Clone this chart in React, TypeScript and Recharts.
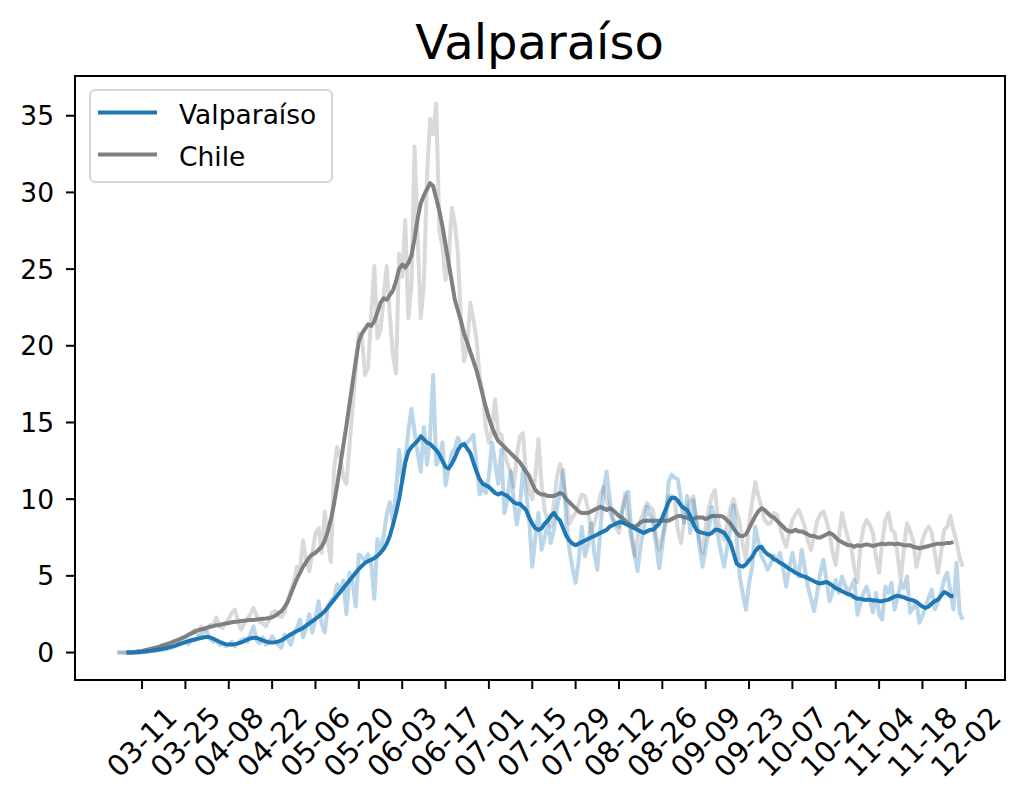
import React from "react";
import { Legend, Line, LineChart, ReferenceArea, XAxis, YAxis } from "recharts";

// days counted from 03-03 (index 0) to 12-01 (index 273)
const tickDays = [8, 22, 36, 50, 64, 78, 92, 106, 120, 134, 148, 162, 176, 190, 204, 218, 232, 246, 260, 274];
const tickLabels = [
  "03-11", "03-25", "04-08", "04-22", "05-06", "05-20", "06-03", "06-17", "07-01", "07-15",
  "07-29", "08-12", "08-26", "09-09", "09-23", "10-07", "10-21", "11-04", "11-18", "12-02",
];
const yTicks = [0, 5, 10, 15, 20, 25, 30, 35];

const chileDaily = [
  0, 0, 0, 0, 0, 0, 0, 0, 0.05, 0.1, 0.15,
  0.2, 0.25, 0.3, 0.35, 0.45, 0.5, 0.6, 0.7, 0.75, 0.85,
  1.0, 0.9, 1.2, 1.3, 1.5, 1.2, 1.7, 1.6, 1.5, 1.8,
  1.8, 2.3, 1.7, 1.6, 1.9, 2.2, 2.6, 2.8, 2.0, 1.5,
  1.9, 2.2, 2.5, 2.9, 2.4, 2.0, 1.9, 1.7, 2.1, 2.6,
  2.7, 2.4, 2.3, 2.6, 3.4, 4.0, 4.6, 5.6, 5.4, 7.3,
  6.0, 5.3, 6.5, 7.8, 8.1, 6.5, 9.2, 7.2, 5.9, 12.0,
  13.4, 12.8, 11.4, 11.0, 13.5, 16.0, 18.5, 20.8, 20.5, 18.1,
  18.6, 22.0, 25.2, 20.5, 21.0, 23.2, 25.2, 22.0, 19.4, 18.2,
  26.0, 24.5, 28.2, 21.8, 24.0, 33.0, 27.0, 21.8, 24.0, 31.0,
  34.8, 33.8, 35.8, 27.5, 26.5, 24.3, 25.5, 29.0, 28.0, 26.0,
  21.5, 19.0, 20.0, 22.8, 21.7, 20.4, 18.0, 17.0, 14.7, 13.7,
  14.5, 16.5, 14.3, 14.2, 13.0, 12.3, 11.8, 10.8, 12.8, 14.1,
  14.3, 11.6, 10.5, 10.0, 11.5, 13.9, 11.0, 9.3, 8.6, 8.2,
  9.8, 11.5, 12.3, 11.2, 10.0, 8.4, 8.8, 9.1, 9.7, 10.3,
  10.2, 9.4, 7.8, 8.4, 9.1, 10.3, 10.8, 10.0, 9.2, 8.7,
  8.2, 7.8, 9.2, 10.4, 8.7, 7.4, 6.3, 7.5, 8.6, 9.2,
  9.75, 9.5, 9.3, 7.6, 6.7, 7.6, 8.4, 10.2, 10.2, 10.0,
  8.0, 7.15, 8.5, 9.4, 9.9, 10.2, 8.6, 7.4, 6.5, 8.2,
  9.4, 10.2, 10.6, 8.65, 7.8, 7.35, 8.45, 9.4, 10.0, 9.2,
  8.45, 7.0, 6.05, 8.4, 9.8, 11.1, 10.2, 9.5, 8.65, 8.4,
  8.45, 9.1, 9.0, 8.2, 7.4, 6.9, 7.8, 8.65, 9.0, 9.3,
  8.8, 8.2, 7.3, 6.7, 7.6, 8.6, 9.0, 9.2, 8.6, 7.8,
  6.5, 5.7, 7.5, 9.1, 8.2, 7.4, 6.9, 5.5, 4.6, 7.0,
  8.2, 8.65, 8.3, 7.8, 6.2, 5.2, 7.2, 8.6, 9.1, 8.0,
  7.8, 6.3, 4.75, 6.8, 8.45, 7.9, 7.3, 5.6, 6.4, 7.35,
  7.9, 8.2, 7.8, 6.5, 5.2, 6.5, 8.0, 8.2, 8.9, 8.0,
  7.2, 6.2, 5.6,
];

const chileAvg = [
  null, null, null, 0, 0, 0.02, 0.05, 0.08, 0.1,
  0.15, 0.2, 0.25, 0.3, 0.35, 0.42, 0.5,
  0.55, 0.62, 0.7, 0.78, 0.85, 0.95, 1.05,
  1.15, 1.25, 1.35, 1.45, 1.5, 1.55, 1.62, 1.68,
  1.72, 1.78, 1.8, 1.85, 1.9, 1.93, 1.97, 2.0, 2.02, 2.05,
  2.08, 2.1, 2.12, 2.12, 2.15, 2.18, 2.2, 2.22, 2.25, 2.3,
  2.4, 2.55, 2.7, 2.95, 3.3,
  3.8, 4.3, 4.8, 5.2, 5.6,
  5.9, 6.2, 6.4, 6.5, 6.7,
  6.9, 7.3, 7.9, 8.7, 9.7,
  10.9, 12.2, 13.5, 14.8, 16.2,
  17.6, 19.0, 20.3, 20.8, 21.1,
  21.4, 21.3, 21.6, 22.2, 22.8,
  23.1, 23.0, 23.3, 23.6, 24.2,
  25.0, 25.3, 25.1, 25.4, 25.9,
  27.0, 28.3, 29.3, 29.8, 30.2,
  30.6, 30.4, 29.6, 28.8, 27.8,
  26.6, 25.4, 24.2, 23.0, 22.3,
  21.6, 20.8, 20.2, 19.6, 19.0,
  18.4, 17.6, 16.8, 16.0, 15.3,
  14.7, 14.2, 13.8, 13.6, 13.4,
  13.2, 13.0, 12.8, 12.6, 12.4,
  12.1, 11.8, 11.5, 11.0, 10.6,
  10.4, 10.3, 10.3, 10.2, 10.2,
  10.2, 10.3, 10.4, 10.3, 10.0,
  9.8, 9.6, 9.4, 9.2, 9.1,
  9.1, 9.1, 9.2, 9.3, 9.4,
  9.5, 9.4, 9.3, 9.4, 9.3,
  9.1, 8.9, 8.8, 8.6, 8.4,
  8.3, 8.2, 8.3, 8.5, 8.6,
  8.6, 8.6, 8.6, 8.6, 8.6,
  8.6, 8.6, 8.6, 8.7, 8.8,
  8.9, 8.9, 8.8, 8.8, 8.7,
  8.7, 8.8, 8.8, 8.8, 8.7,
  8.8, 8.9, 8.9, 8.9, 8.9,
  8.8, 8.6, 8.4, 8.1, 7.8,
  7.6, 7.6, 7.7, 8.1, 8.5,
  8.9, 9.2, 9.4, 9.3, 9.1,
  8.9, 8.8, 8.6, 8.4, 8.2,
  8.0, 7.9, 7.9, 8.0, 7.9,
  7.9, 7.8, 7.7, 7.6, 7.6,
  7.5, 7.5, 7.6, 7.7, 7.8,
  7.7, 7.5, 7.3, 7.2, 7.1,
  7.0, 7.0, 6.9, 7.0, 6.95,
  7.0, 7.05, 7.0, 6.95, 7.0,
  7.05, 7.1, 7.05, 7.1, 7.1,
  7.05, 7.1, 7.05, 7.0, 7.0,
  7.0, 6.9, 6.85, 6.8, 6.85,
  6.9, 6.95, 7.0, 7.05, 7.1,
  7.1, 7.1, 7.15, 7.15, 7.2,
  null, null, null,
];

const valpDaily = [
  0, 0, 0, 0, 0, 0, 0, 0, 0, 0.05, 0.05,
  0.1, 0.1, 0.15, 0.2, 0.2, 0.25, 0.3, 0.35, 0.45, 0.5,
  0.6, 0.7, 0.55, 0.85, 0.8, 1.0, 1.1, 1.4, 1.3, 0.9,
  0.7, 0.8, 0.5, 0.6, 0.4, 0.5, 0.7, 0.4, 0.6, 0.8,
  0.9, 0.7, 1.2, 1.7, 0.8, 0.6, 1.0, 0.5, 0.7, 1.06,
  0.7, 0.5, 0.3, 1.17, 0.9, 0.5, 1.2, 1.6, 2.15, 1.0,
  1.6, 2.5, 1.3, 2.2, 3.34, 1.9, 1.3, 3.0, 3.4, 3.6,
  4.45, 4.0, 4.7, 2.5, 5.2, 4.5, 3.0, 6.4, 6.2, 6.0,
  6.4, 5.8, 3.5, 7.4, 6.6, 7.6, 9.0, 9.8, 8.6, 10.5,
  13.2, 11.1, 12.5, 14.5, 15.9, 14.4, 13.0, 11.8, 14.7, 12.25,
  14.0, 18.1, 12.25, 12.6, 13.7, 10.9, 12.0, 13.0, 13.3, 14.0,
  13.5, 13.6, 13.7, 13.9, 14.2, 12.25, 10.3, 10.8, 10.4, 11.5,
  13.7, 12.4, 11.0, 13.2, 9.1, 10.0, 11.8, 10.0, 8.35, 9.5,
  11.9, 10.5, 8.65, 5.6, 7.5, 9.1, 6.7, 7.5, 8.45, 7.15,
  8.0, 9.5, 10.5, 11.9, 8.5, 6.7, 5.5, 4.55, 6.0, 8.2,
  6.3, 7.0, 8.45, 6.5, 5.4, 8.0, 10.6, 11.8, 10.0, 8.65,
  8.5, 8.2, 9.2, 10.0, 10.5, 7.8, 6.5, 5.3, 7.0, 8.0,
  9.5, 9.0, 8.45, 7.0, 5.5, 7.0, 8.65, 11.1, 11.6, 11.4,
  11.3, 10.0, 8.45, 10.2, 7.8, 9.95, 8.5, 6.9, 5.6, 6.8,
  8.0, 9.5, 8.5, 7.57, 6.5, 5.6, 7.0, 8.0, 9.6, 7.5,
  4.96, 3.8, 2.8, 4.5, 5.6, 8.2, 7.2, 6.3, 5.9, 5.4,
  5.8, 6.3, 6.0, 6.5, 5.5, 4.3, 5.5, 6.5, 5.5, 4.96,
  6.7, 5.5, 4.3, 3.5, 2.7, 3.9, 5.2, 6.05, 4.7, 3.34,
  4.0, 4.75, 3.9, 4.96, 4.4, 3.9, 4.3, 4.75, 2.47, 3.2,
  3.9, 4.3, 3.5, 2.6, 3.9, 2.5, 2.15, 4.3, 3.9, 4.55,
  2.8, 3.6, 4.55, 4.2, 4.96, 2.6, 2.9, 3.34, 1.95, 2.4,
  3.0, 3.6, 4.1, 2.8, 3.3, 3.9, 4.75, 5.2, 4.0, 2.8,
  5.85, 2.6, 2.15,
];

const valpAvg = [
  null, null, null, 0, 0, 0, 0.02, 0.03, 0.05,
  0.07, 0.1, 0.12, 0.15, 0.18, 0.22, 0.26,
  0.3, 0.35, 0.4, 0.47, 0.55, 0.62, 0.68,
  0.75, 0.8, 0.85, 0.9, 0.95, 1.0, 1.02,
  0.98, 0.9, 0.8, 0.7, 0.62, 0.55, 0.52,
  0.52, 0.55, 0.6, 0.67, 0.75, 0.85, 0.92,
  0.97, 0.95, 0.88, 0.8, 0.72, 0.66, 0.65,
  0.68, 0.72, 0.8, 0.92, 1.05, 1.18, 1.3,
  1.4, 1.5, 1.6, 1.75, 1.9, 2.05, 2.2,
  2.35, 2.5, 2.7, 2.95, 3.2, 3.45, 3.7,
  3.95, 4.2, 4.45, 4.7, 4.95, 5.2, 5.45,
  5.65, 5.85, 5.95, 6.05, 6.15, 6.3, 6.5,
  6.75, 7.1, 7.6, 8.3, 9.1, 10.0, 11.2,
  12.4, 13.1, 13.4, 13.6, 13.8, 14.1, 13.9,
  13.7, 13.6, 13.4, 13.2, 12.9,
  12.5, 12.1, 12.0, 12.3, 12.7, 13.2, 13.5,
  13.6, 13.3, 13.0, 12.4, 11.8, 11.3, 11.0,
  10.9, 10.8, 10.6, 10.4, 10.3, 10.4, 10.3,
  10.2, 10.0, 9.8, 9.7, 9.7, 9.5, 9.3, 8.8, 8.4, 8.1,
  8.0, 8.1, 8.4, 8.6, 8.9, 9.1, 8.8, 8.6, 8.1, 7.6,
  7.3, 7.1, 7.0,
  7.1, 7.2, 7.3, 7.4, 7.5, 7.6, 7.7,
  7.8, 7.9, 8.0, 8.2, 8.3, 8.4, 8.5,
  8.5, 8.4, 8.3, 8.2, 8.1, 8.0, 7.9,
  7.8, 7.9, 8.0, 8.0, 8.2, 8.4, 8.8,
  9.3, 9.8, 10.1, 10.1, 9.9, 9.6, 9.4,
  9.3, 8.9, 8.4, 8.0, 7.85, 7.8, 7.75,
  7.7, 7.8, 8.0, 8.0, 7.9, 7.8, 7.5,
  7.15, 6.5, 5.8, 5.65, 5.6, 5.75, 6.0,
  6.25, 6.6, 6.85, 6.9, 6.6, 6.4, 6.3,
  6.1, 6.0, 5.85, 5.75, 5.6, 5.45, 5.35,
  5.2, 5.1, 5.0, 4.95, 4.85, 4.75, 4.65,
  4.55, 4.5, 4.55, 4.6, 4.5, 4.35, 4.2,
  4.1, 4.0, 3.9, 3.8, 3.75, 3.6, 3.5,
  3.5, 3.45, 3.45, 3.45, 3.4, 3.4, 3.35,
  3.35, 3.4, 3.45, 3.55, 3.65, 3.7, 3.65,
  3.6, 3.5, 3.45, 3.4, 3.3, 3.15, 3.0,
  2.9, 3.0, 3.2, 3.35, 3.45, 3.7, 3.95,
  3.85, 3.7, 3.65,
  null, null, null,
];

const legendOrder = ["Valparaíso", "Chile"];

const data = chileDaily.map((v, i) => ({
  day: i,
  chileDaily: v,
  chileAvg: chileAvg[i],
  valpDaily: valpDaily[i],
  valpAvg: valpAvg[i],
}));

const FONT = "DejaVu Sans, sans-serif";
const BLUE = "#1f77b4";
const GRAY = "#808080";

function DateTick({ x, y, payload }: any) {
  const i = tickDays.indexOf(payload.value);
  const cy = y + 53;
  return (
    <text
      x={x}
      y={cy}
      textAnchor="middle"
      dominantBaseline="central"
      transform={`rotate(-45 ${x} ${cy})`}
      fontSize={29}
      fontFamily={FONT}
      fill="#000"
    >
      {tickLabels[i]}
    </text>
  );
}

function LegendBox({ payload }: any) {
  const items = legendOrder
    .map((name) => (payload || []).find((p: any) => p.value === name))
    .filter(Boolean);
  return (
    <svg width={244} height={94} style={{ display: "block" }}>
      <rect x={1} y={1} width={242} height={92} rx={5} fill="#fff" fillOpacity={0.8} stroke="#d6d6d6" strokeWidth={2} />
      {items.map((it: any, i: number) => (
        <g key={it.value}>
          <line x1={9} x2={68} y1={23.5 + i * 42} y2={23.5 + i * 42} stroke={it.color} strokeWidth={4} />
          <text x={90} y={35 + i * 42} fontSize={26.5} fontFamily={FONT} fill="#000">
            {it.value}
          </text>
        </g>
      ))}
    </svg>
  );
}

export default function App() {
  return (
    <div style={{ position: "absolute", left: 0, top: 0, width: 1027, height: 803, background: "#fff" }}>
      <LineChart width={1027} height={803} data={data} margin={{ top: 76, right: 22, bottom: 0, left: 0 }}>
        <XAxis
          dataKey="day"
          type="number"
          domain={[-13.65, 286.65]}
          ticks={tickDays}
          interval={0}
          height={123}
          tickSize={9}
          tickMargin={0}
          allowDataOverflow
          axisLine={{ stroke: "#000", strokeWidth: 2 }}
          tickLine={{ stroke: "#000", strokeWidth: 2 }}
          tick={<DateTick />}
        />
        <YAxis
          type="number"
          domain={[-1.79, 37.59]}
          ticks={yTicks}
          interval={0}
          width={75}
          tickSize={9}
          tickMargin={12}
          allowDataOverflow
          axisLine={{ stroke: "#000", strokeWidth: 2 }}
          tickLine={{ stroke: "#000", strokeWidth: 2 }}
          tick={{ fill: "#000", fontSize: 26.5, fontFamily: FONT }}
        />
        <ReferenceArea
          x1={-13.65}
          x2={286.65}
          y1={-1.79}
          y2={37.59}
          fill="none"
          stroke="#000"
          strokeWidth={2}
        />
        <Line
          dataKey="chileDaily"
          name="Chile diario"
          type="linear"
          stroke={GRAY}
          strokeOpacity={0.3}
          strokeWidth={4}
          strokeLinejoin="round"
          dot={false}
          legendType="none"
          isAnimationActive={false}
        />
        <Line
          dataKey="chileAvg"
          name="Chile"
          type="linear"
          stroke={GRAY}
          strokeWidth={4}
          strokeLinejoin="round"
          dot={false}
          isAnimationActive={false}
        />
        <Line
          dataKey="valpDaily"
          name="Valparaíso diario"
          type="linear"
          stroke={BLUE}
          strokeOpacity={0.3}
          strokeWidth={4}
          strokeLinejoin="round"
          dot={false}
          legendType="none"
          isAnimationActive={false}
        />
        <Line
          dataKey="valpAvg"
          name="Valparaíso"
          type="linear"
          stroke={BLUE}
          strokeWidth={4}
          strokeLinejoin="round"
          dot={false}
          isAnimationActive={false}
        />
        <Legend
          layout="vertical"
          align="center"
          verticalAlign="middle"
          content={<LegendBox />}
          wrapperStyle={{ left: 89, top: 89, width: 244, height: 94 }}
        />
      </LineChart>
      <svg
        width={1027}
        height={803}
        style={{ position: "absolute", left: 0, top: 0, pointerEvents: "none" }}
      >
        <text x={539.5} y={58.5} textAnchor="middle" fontSize={48} fontFamily={FONT} fill="#000">
          Valparaíso
        </text>
      </svg>
    </div>
  );
}
